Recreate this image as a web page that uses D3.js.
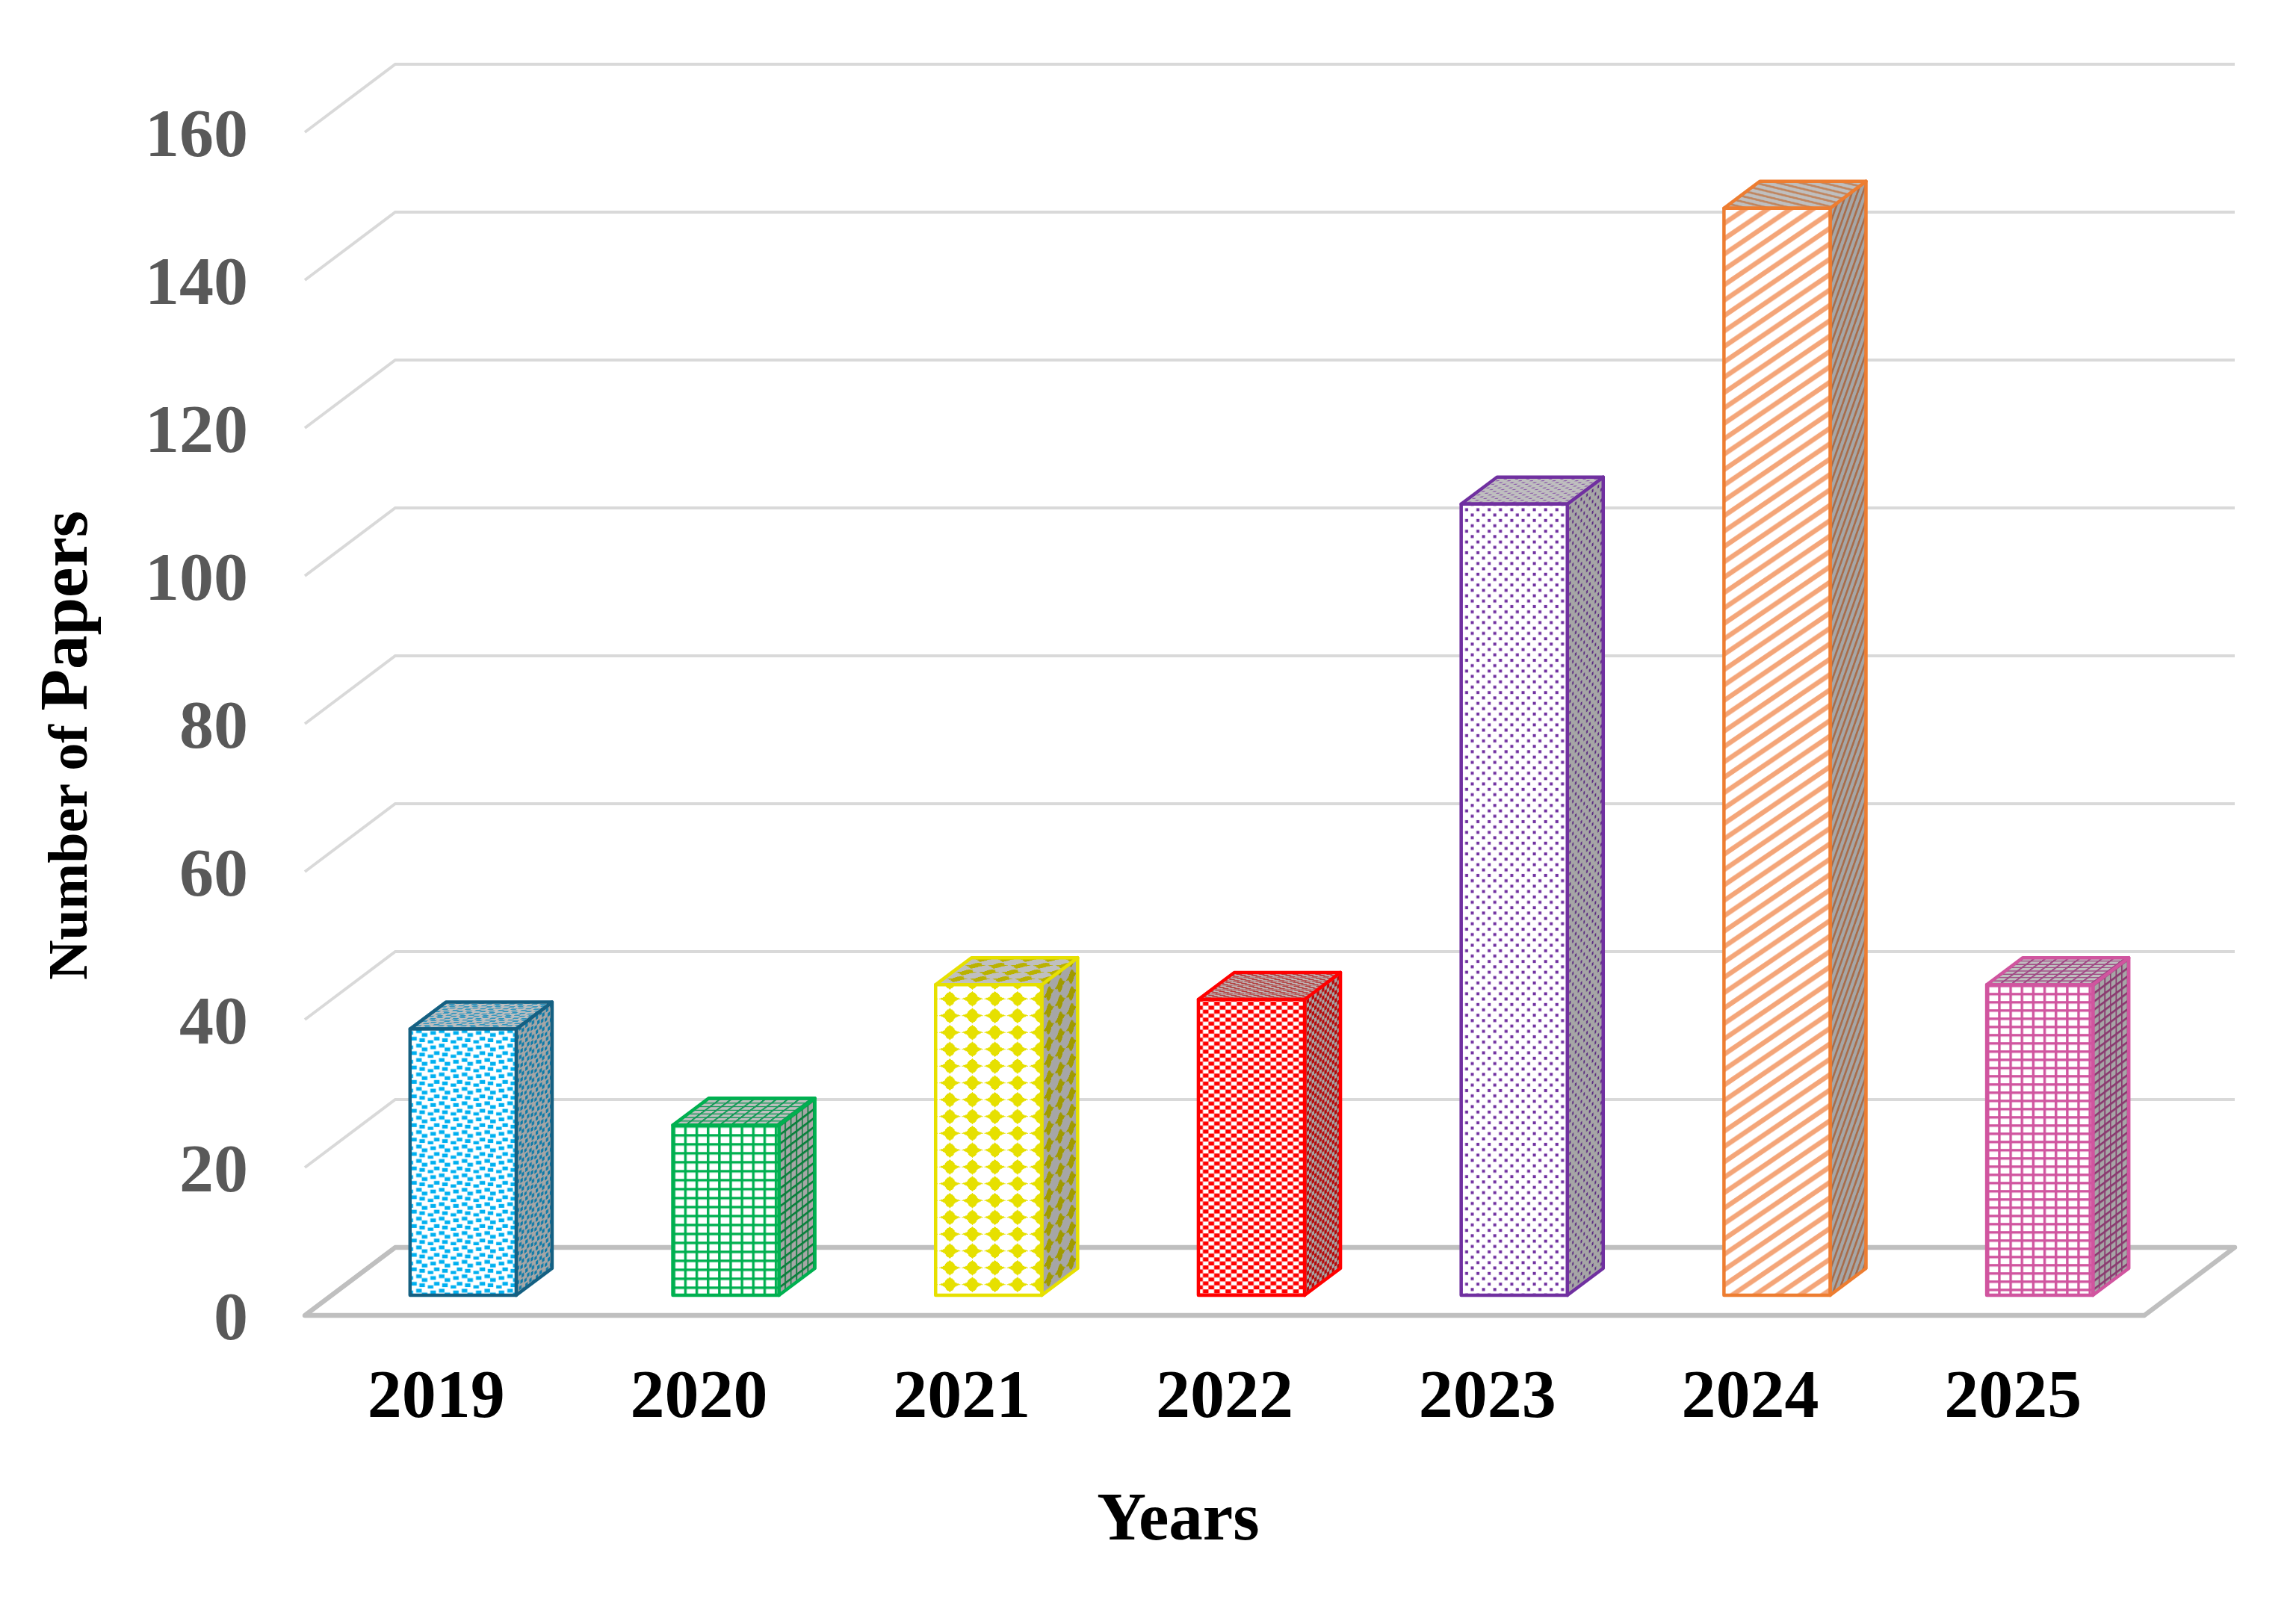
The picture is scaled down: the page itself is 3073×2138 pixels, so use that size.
<!DOCTYPE html>
<html>
<head>
<meta charset="utf-8">
<script src="https://d3js.org/d3.v7.min.js"></script>
<style>
    html, body { margin: 0; padding: 0; background: #fff; }
    svg { display: block; }
    text { font-family: "Liberation Serif", "Times New Roman", serif; font-weight: bold; }
</style>
</head>
<body>
<div id="chart"></div>
<script>
var years = ["2019", "2020", "2021", "2022", "2023", "2024", "2025"];
var papers = [36, 23, 42, 40, 107, 147, 42];
var yTicks = [0, 20, 40, 60, 80, 100, 120, 140, 160];

var width = 3073, height = 2138;

// fake 3d: the floor goes back by (wallDx, -wallDy), bars stand inside it
var wallDx = 121, wallDy = 91;
var barDx = 48, barDy = 36;
var barOffsetX = 36, barOffsetY = 27;

var xScale = d3.scaleBand()
    .domain(years)
    .range([408, 2870])
    .paddingInner(0.596)
    .paddingOuter(0.298);

var xLabels = d3.scaleBand().domain(years).range([408, 2870]);

var yScale = d3.scaleLinear()
    .domain([0, 160])
    .range([1761, 177]);

var svg = d3.select("#chart").append("svg")
    .attr("width", width)
    .attr("height", height);

svg.append("rect").attr("width", width).attr("height", height).attr("fill", "#fff");

var defs = svg.append("defs");

// one function per hatch, each one fills a tile with the given colour
var tiles = {
    confetti: {
        w: 30.5, h: 19.3,
        draw: function (g, c) {
            [[8.2, .4], [15.8, 5.4], [27.2, 2.7], [1.6, 10.4], [12.5, 12.4], [23.8, 15]].forEach(function (p) {
                g.append("rect").attr("x", p[0]).attr("y", p[1]).attr("width", 7.4).attr("height", 5).attr("fill", c);
                if (p[0] + 7.4 > 30.5) g.append("rect").attr("x", p[0] - 30.5).attr("y", p[1]).attr("width", 7.4).attr("height", 5).attr("fill", c);
            });
        }
    },
    gridGreen: {
        w: 15.15, h: 12,
        draw: function (g, c) { drawGrid(g, c, 15.15, 12); }
    },
    gridPink: {
        w: 15.15, h: 11,
        draw: function (g, c) { drawGrid(g, c, 15.15, 11); }
    },
    diamond: {
        w: 30.2, h: 22.5,
        draw: function (g, c) {
            [[19, 19], [19, -3.5], [-11.2, 19], [-11.2, -3.5]].forEach(function (p) {
                g.append("polygon")
                    .attr("transform", "translate(" + p + ")")
                    .attr("points", "-14,0 -7,-3 -4.5,-7 0,-10 4.5,-7 7,-3 14,0 7,3 4.5,7 0,10 -4.5,7 -7,3")
                    .attr("shape-rendering", "crispEdges")
                    .attr("fill", c);
            });
        }
    },
    checker: {
        w: 15.1, h: 10.7,
        draw: function (g, c) {
            g.append("rect").attr("x", 6).attr("y", 3).attr("width", 7.55).attr("height", 5.35).attr("fill", c);
            g.append("rect").attr("x", 13.55).attr("y", 8.35).attr("width", 7.55).attr("height", 5.35).attr("fill", c);
            g.append("rect").attr("x", -1.55).attr("y", 8.35).attr("width", 7.55).attr("height", 5.35).attr("fill", c);
            g.append("rect").attr("x", 13.55).attr("y", -2.35).attr("width", 7.55).attr("height", 5.35).attr("fill", c);
            g.append("rect").attr("x", -1.55).attr("y", -2.35).attr("width", 7.55).attr("height", 5.35).attr("fill", c);
        }
    },
    dots: {
        w: 15.1, h: 14.4,
        draw: function (g, c) {
            g.append("rect").attr("x", 5.3).attr("y", 5.7).attr("width", 4).attr("height", 4).attr("fill", c);
            g.append("rect").attr("x", 12.8).attr("y", 12.8).attr("width", 4).attr("height", 4).attr("fill", c);
            g.append("rect").attr("x", -2.3).attr("y", 12.8).attr("width", 4).attr("height", 4).attr("fill", c);
            g.append("rect").attr("x", 12.8).attr("y", -1.6).attr("width", 4).attr("height", 4).attr("fill", c);
            g.append("rect").attr("x", -2.3).attr("y", -1.6).attr("width", 4).attr("height", 4).attr("fill", c);
        }
    },
    stripes: {
        w: 30.2, h: 20.6,
        draw: function (g, c) {
            [-1, 0, 1].forEach(function (k) {
                g.append("line")
                    .attr("x1", -30.2 + k * 30.2).attr("y1", 41.2)
                    .attr("x2", 60.4 + k * 30.2).attr("y2", -20.6)
                    .attr("stroke", c)
                    .attr("stroke-width", 6.5);
            });
        }
    }
};

function drawGrid(g, c, w, h) {
    g.append("rect").attr("x", 0).attr("y", 0).attr("width", 3.4).attr("height", h).attr("fill", c);
    g.append("rect").attr("x", 0).attr("y", 0).attr("width", w).attr("height", 3.4).attr("fill", c);
}

var barStyles = [
    {tile: "confetti",  line: "#156082", front: "#00b0f0", side: "#0f7ba8", top: "#2b93bd", topScale: 0.33, sideScale: 0.45},
    {tile: "gridGreen", line: "#00b050", front: "#00b050", side: "#0a7f3c", top: "#159a58", topScale: 0.4,  sideScale: 0.5},
    {tile: "diamond",   line: "#e6e000", front: "#e6e000", side: "#a09a00", top: "#bab200", topScale: 0.4,  sideScale: 0.5},
    {tile: "checker",   line: "#ff0000", front: "#ff0000", side: "#b50a0a", top: "#b23a3a", topScale: 0.33, sideScale: 0.45},
    {tile: "dots",      line: "#7030a0", front: "#7030a0", side: "#5a2a80", top: "#8a5aa8", topScale: 0.33, sideScale: 0.5},
    {tile: "stripes",   line: "#ed7d31", front: "#f4a578", side: "#a86c4a", top: "#c08660", topScale: 0.27, sideScale: 0.33},
    {tile: "gridPink",  line: "#d0559f", front: "#d0559f", side: "#8a3a70", top: "#a04a85", topScale: 0.4,  sideScale: 0.5}
];

function addPattern(id, style, colour, background, transform) {
    var t = tiles[style.tile];
    var p = defs.append("pattern")
        .attr("id", id)
        .attr("patternUnits", "userSpaceOnUse")
        .attr("width", t.w)
        .attr("height", t.h)
        .attr("patternTransform", transform);
    p.append("rect").attr("x", -1).attr("y", -1).attr("width", t.w + 2).attr("height", t.h + 2).attr("fill", background);
    t.draw(p.append("g"), colour);
}

// walls and floor
var grid = svg.append("g");

yTicks.filter(function (d) { return d > 0; }).forEach(function (d) {
    grid.append("polyline")
        .attr("points", [
            [xScale.range()[0], yScale(d)],
            [xScale.range()[0] + wallDx, yScale(d) - wallDy],
            [xScale.range()[1] + wallDx, yScale(d) - wallDy]
        ].join(" "))
        .attr("fill", "none")
        .attr("stroke", "#d9d9d9")
        .attr("stroke-width", 4);
});

var floorX = xScale.range();
grid.append("polygon")
    .attr("points", [
        [floorX[0], yScale(0)],
        [floorX[0] + wallDx, yScale(0) - wallDy],
        [floorX[1] + wallDx, yScale(0) - wallDy],
        [floorX[1], yScale(0)]
    ].join(" "))
    .attr("fill", "none")
    .attr("stroke", "#bfbfbf")
    .attr("stroke-width", 6.5)
    .attr("stroke-linejoin", "round");

// bars
var bw = xScale.bandwidth();
var base = yScale(0) - barOffsetY;

var bars = svg.selectAll("g.bar")
    .data(years)
    .enter().append("g")
    .attr("class", "bar");

bars.each(function (year, i) {
    var g = d3.select(this);
    var st = barStyles[i];
    var x0 = xScale(year) + barOffsetX;
    var x1 = x0 + bw;
    var top = yScale(papers[i]) - barOffsetY;
    var k = barDy / barDx;

    addPattern("front" + i, st, st.front, "#fff", "translate(" + x0 + "," + top + ")");
    addPattern("side" + i, st, st.side, "#a6a6a6",
        "matrix(" + [st.sideScale, -k * st.sideScale, 0, 1, x1, top].join(",") + ")");
    addPattern("top" + i, st, st.top, "#bfbfbf",
        "matrix(" + [1, 0, st.topScale / k, -st.topScale, x0, top].join(",") + ")");

    var faces = [
        {fill: "side" + i, pts: [[x1, top], [x1 + barDx, top - barDy], [x1 + barDx, base - barDy], [x1, base]]},
        {fill: "top" + i, pts: [[x0, top], [x0 + barDx, top - barDy], [x1 + barDx, top - barDy], [x1, top]]},
        {fill: "front" + i, pts: [[x0, top], [x1, top], [x1, base], [x0, base]]}
    ];

    g.selectAll("polygon")
        .data(faces)
        .enter().append("polygon")
        .attr("points", function (d) { return d.pts.join(" "); })
        .attr("fill", function (d) { return "url(#" + d.fill + ")"; })
        .attr("stroke", st.line)
        .attr("stroke-width", 4.5)
        .attr("stroke-linejoin", "round");
});

// axes
var yAxis = svg.append("g")
    .attr("transform", "translate(332,0)")
    .call(d3.axisLeft(yScale).tickValues(yTicks).tickSize(0).tickPadding(0));
yAxis.select(".domain").remove();
yAxis.selectAll("text")
    .attr("dy", 31)
    .attr("fill", "#595959")
    .style("font-size", "92px");

var xAxis = svg.append("g")
    .attr("transform", "translate(0,1897)")
    .call(d3.axisBottom(xLabels).tickSize(0).tickPadding(0));
xAxis.select(".domain").remove();
xAxis.selectAll("text")
    .attr("y", 0)
    .attr("dy", 0)
    .attr("fill", "#000")
    .style("font-size", "92px");

svg.append("text")
    .attr("x", 1577)
    .attr("y", 2061)
    .attr("text-anchor", "middle")
    .attr("fill", "#000")
    .style("font-size", "91px")
    .text("Years");

// the y title has two sizes, like in the original
var yTitle = svg.append("text")
    .attr("transform", "translate(116,1312) rotate(-90)")
    .attr("fill", "#000");
yTitle.append("tspan").style("font-size", "74px").text("Number of ");
yTitle.append("tspan").style("font-size", "91px").text("Papers");
</script>
</body>
</html>
